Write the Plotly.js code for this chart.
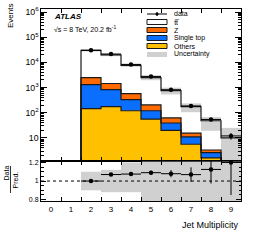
<!DOCTYPE html>
<html><head><meta charset="utf-8">
<script src="https://cdn.plot.ly/plotly-3.0.1.min.js"></script>
<style>html,body{margin:0;padding:0;background:#fff}#chart{width:260px;height:248px}</style>
</head><body><div id="chart"></div>
<script>
// ---- data ----
const jetBins   = [2, 3, 4, 5, 6, 7, 8, 9];
const axisLabels = ['0','1','2','3','4','5','6','7','8','9'];
const others    = [145, 174, 120, 56, 20, 5.6, 1.6, 0.5];
const singleTop = [1155, 656, 210, 64, 19, 5.4, 1.0, 0.2];
const zjets     = [1200, 620, 245, 84, 23, 4.4, 0.7, 0.2];
const ttbar     = [27500, 18550, 7025, 2296, 698, 158.6, 44.7, 9.1];
const dataVals  = [30000, 21400, 8170, 2725, 820, 186, 54, 12];
const dataErr   = [173, 146, 90, 52, 29, 13.6, 7.3, 3.5];
const uncUp     = [0.10, 0.12, 0.20, 0.25, 0.30, 0.35, 0.40, 1.5];
const uncDown   = [0.10, 0.12, 0.12, 0.22, 0.30, 0.40, 0.60, 0.90];
const legendNames = ['data', 'tt\u0305', 'Z', 'Single top', 'Others', 'Uncertainty'];

const colOthers = '#FFC000', colST = '#0A6EFF', colZ = '#FF6A00', colLine = '#1a1a1a';
const bandCol = 'rgba(150,150,150,0.45)';

// cumulative stack levels
const lvl1 = others.slice();
const lvl2 = lvl1.map((v,i)=>v+singleTop[i]);
const lvl3 = lvl2.map((v,i)=>v+zjets[i]);
const total = lvl3.map((v,i)=>v+ttbar[i]);

function stepLine(vals){
  const xs=[jetBins[0]-0.5], ys=[0.05];
  jetBins.forEach((b,i)=>{xs.push(b-0.5); ys.push(vals[i]);});
  xs.push(jetBins[jetBins.length-1]+0.5); ys.push(vals[vals.length-1]);
  return {type:'scatter',mode:'lines',x:xs,y:ys,line:{shape:'hv',color:colLine,width:1.2},xaxis:'x',yaxis:'y',hoverinfo:'skip'};
}
function barTrace(top, base, color){
  return {type:'bar',x:jetBins,y:top.map((v,i)=>base? v-base[i] : v),base:base||undefined,width:1,
    marker:{color:color,line:{width:0}},xaxis:'x',yaxis:'y',hoverinfo:'skip'};
}

const traces = [
  barTrace(total, lvl3, '#ffffff'),
  barTrace(lvl3, lvl2, colZ),
  barTrace(lvl2, lvl1, colST),
  barTrace(lvl1, null, colOthers),
  {type:'bar',x:jetBins,base:total.map((t,i)=>t*(1-uncDown[i])),y:total.map((t,i)=>t*(uncUp[i]+uncDown[i])),width:1,
    marker:{color:bandCol,line:{width:0}},xaxis:'x',yaxis:'y',hoverinfo:'skip'},
  stepLine(lvl1), stepLine(lvl2), stepLine(lvl3), stepLine(total),
  {type:'scatter',mode:'markers',x:jetBins,y:dataVals,marker:{color:'#000',size:4.5},
    error_y:{type:'data',array:dataErr,color:'#000',thickness:1,width:0},
    error_x:{type:'constant',value:0.5,color:'#000',thickness:1,width:0},xaxis:'x',yaxis:'y',hoverinfo:'skip'},
  // ratio panel
  {type:'bar',x:jetBins,base:uncDown.map(d=>1-d),y:uncDown.map((d,i)=>d+uncUp[i]),width:1,
    marker:{color:bandCol,line:{width:0}},xaxis:'x2',yaxis:'y2',hoverinfo:'skip'},
  {type:'scatter',mode:'markers',x:jetBins,y:dataVals.map((d,i)=>d/total[i]),marker:{color:'#000',size:4.5},
    error_y:{type:'data',array:dataErr.map((e,i)=>e/total[i]),color:'#000',thickness:1,width:0},
    error_x:{type:'constant',value:0.5,color:'#000',thickness:1,width:0},xaxis:'x2',yaxis:'y2',hoverinfo:'skip'}
];

// pixel helpers (plot area: x 41..241, y 9..201)
const px = x => (x-41)/200;
const py = y => (201-y)/192;

const shapes = [
  {type:'line',xref:'x2',yref:'y2',x0:-0.5,x1:9.5,y0:1,y1:1,line:{color:'#000',width:1,dash:'dot'}},
  {type:'line',xref:'paper',yref:'paper',x0:px(10.5),x1:px(10.5),y0:py(166),y1:py(193),line:{color:'#000',width:0.8}}
];
const annotations = [
  {text:'<b><i>ATLAS</i></b>',x:px(52),y:py(17),xref:'paper',yref:'paper',xanchor:'left',yanchor:'middle',showarrow:false,font:{size:8,color:'#000'}},
  {text:'\u221As = 8 TeV, 20.2 fb<sup>-1</sup>',x:px(52),y:py(29),xref:'paper',yref:'paper',xanchor:'left',yanchor:'middle',showarrow:false,font:{size:7,color:'#000'}},
  {text:'Events',textangle:-90,x:px(10),y:py(16),xref:'paper',yref:'paper',xanchor:'center',yanchor:'middle',showarrow:false,font:{size:8,color:'#000'}},
  {text:'Data',textangle:-90,x:px(6),y:py(173.5),xref:'paper',yref:'paper',xanchor:'center',yanchor:'middle',showarrow:false,font:{size:7,color:'#000'}},
  {text:'Pred.',textangle:-90,x:px(15),y:py(180.5),xref:'paper',yref:'paper',xanchor:'center',yanchor:'middle',showarrow:false,font:{size:7,color:'#000'}},
  {text:'Jet Multiplicity',x:px(241),y:py(225),xref:'paper',yref:'paper',xanchor:'right',yanchor:'middle',showarrow:false,font:{size:9,color:'#000'}}
];
// manual legend
const rowY = [14, 22, 30, 38, 46, 54.5];
const boxFill = [null, '#ffffff', colZ, colST, colOthers, bandCol];
legendNames.forEach((n,i)=>{
  annotations.push({text:n,x:px(172),y:py(rowY[i]),xref:'paper',yref:'paper',xanchor:'left',yanchor:'middle',showarrow:false,font:{size:7,color:'#000'}});
  if(i===0){
    shapes.push({type:'line',xref:'paper',yref:'paper',x0:px(147),x1:px(167),y0:py(rowY[0]),y1:py(rowY[0]),line:{color:'#000',width:1}});
    shapes.push({type:'line',xref:'paper',yref:'paper',x0:px(157),x1:px(157),y0:py(rowY[0]-2),y1:py(rowY[0]+2),line:{color:'#000',width:1}});
    shapes.push({type:'circle',xref:'paper',yref:'paper',x0:px(155.5),x1:px(158.5),y0:py(rowY[0]-1.5),y1:py(rowY[0]+1.5),fillcolor:'#000',line:{width:0}});
  } else {
    shapes.push({type:'rect',xref:'paper',yref:'paper',x0:px(147),x1:px(167),y0:py(rowY[i]-2.5),y1:py(rowY[i]+2.5),fillcolor:boxFill[i],
      line:{color: i===5?'rgba(0,0,0,0)':colLine,width: i===5?0:1}});
  }
});

const halfTicks = [-0.5,0.5,1.5,2.5,3.5,4.5,5.5,6.5,7.5,8.5,9.5];
const labelTicks = halfTicks.slice(0,10);
const axFont = {family:'Liberation Sans, Arial, sans-serif',size:7,color:'#000'};
const layout = {
  width:260,height:248,margin:{l:41,r:19,t:9,b:47},
  paper_bgcolor:'#fff',plot_bgcolor:'#fff',showlegend:false,barmode:'overlay',
  font:{family:'Liberation Sans, Arial, sans-serif',color:'#000'},
  xaxis:{domain:[0,1],anchor:'y',range:[-0.5,9.5],tickmode:'array',tickvals:halfTicks,showticklabels:false,
    ticks:'inside',ticklen:4,tickcolor:'#000',showline:true,linecolor:'#000',linewidth:1,mirror:'ticks',showgrid:false,zeroline:false},
  yaxis:{domain:[0.208,1],anchor:'x',type:'log',range:[0.08,6.12],dtick:1,exponentformat:'power',
    ticks:'inside',ticklen:6,tickcolor:'#000',showline:true,linecolor:'#000',linewidth:1,mirror:'ticks',showgrid:false,zeroline:false,
    minor:{ticks:'inside',ticklen:3,dtick:'D1',tickcolor:'#000',showgrid:false},tickfont:axFont},
  xaxis2:{domain:[0,1],anchor:'y2',range:[-0.5,9.5],tickmode:'array',tickvals:labelTicks,ticktext:axisLabels,ticklabelshift:10,
    ticks:'inside',ticklen:4,tickcolor:'#000',showline:true,linecolor:'#000',linewidth:1,mirror:'ticks',showgrid:false,zeroline:false,
    tickfont:{family:'Liberation Sans, Arial, sans-serif',size:8,color:'#000'}},
  yaxis2:{domain:[0,0.208],anchor:'x2',range:[0.785,1.215],tickmode:'array',tickvals:[0.8,1,1.2],ticktext:['0.8','1','1.2'],
    ticks:'inside',ticklen:5,tickcolor:'#000',showline:true,linecolor:'#000',linewidth:1,mirror:'ticks',showgrid:false,zeroline:false,
    minor:{ticks:'inside',ticklen:2.5,tickvals:[0.85,0.9,0.95,1.05,1.1,1.15],tickcolor:'#000'},tickfont:axFont},
  shapes:shapes,annotations:annotations
};
Plotly.newPlot('chart',traces,layout,{displayModeBar:false});
</script></body></html>
